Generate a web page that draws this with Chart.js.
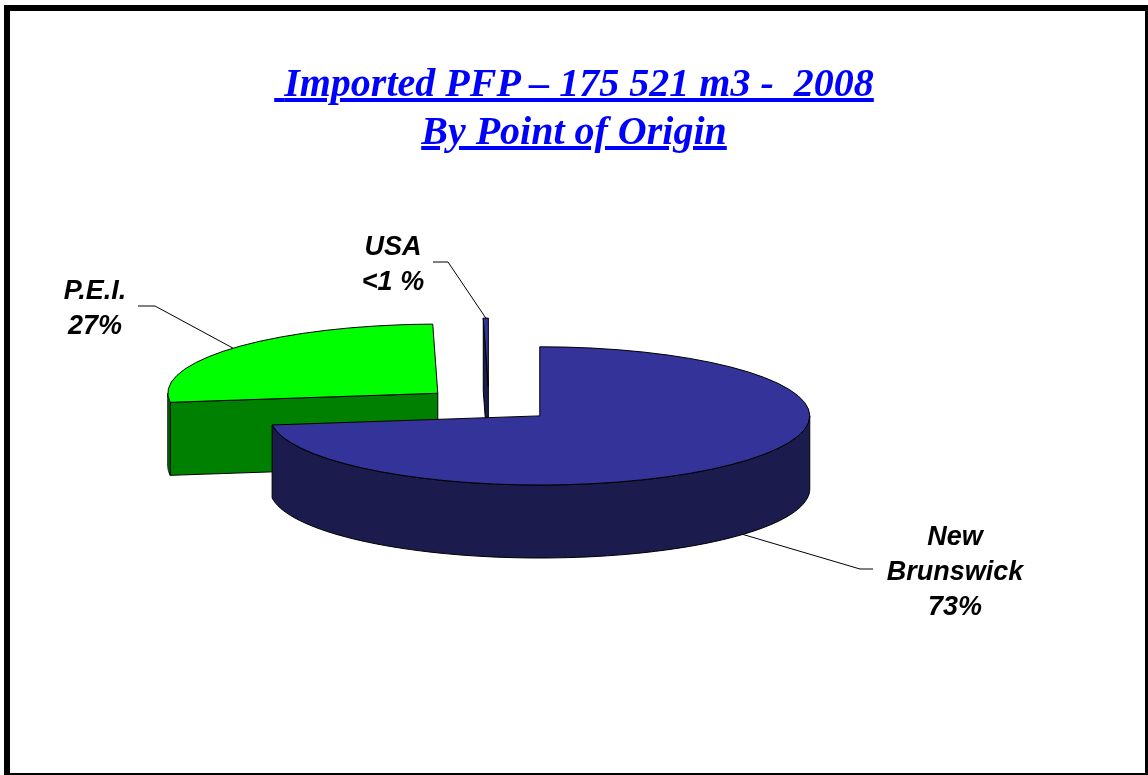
<!DOCTYPE html>
<html>
<head>
<meta charset="utf-8">
<title>Imported PFP 2008 by point of origin</title>
<script src="https://cdn.jsdelivr.net/npm/chart.js@4.4.1/dist/chart.umd.min.js"></script>
<style>
  html, body { margin: 0; padding: 0; background: #fff; }
  body { width: 1148px; height: 775px; position: relative; overflow: hidden; }
  #chart { position: absolute; left: 0; top: 0; }
  #frame {
    position: absolute; left: 4px; top: 5px;
    width: 1135px; height: 762px;
    border: 6px solid #000;
  }
  #title {
    position: absolute; left: 0; top: 59px; width: 1148px;
    text-align: center; white-space: pre;
    font: italic bold 40px "Liberation Serif", "Times New Roman", serif;
    line-height: 48px; color: #0000ff;
    text-decoration: underline;
  }
  #title .lead { color: #000; }
</style>
</head>
<body>
<canvas id="chart" width="1148" height="775"></canvas>
<div id="frame"></div>
<div id="title"><span class="lead"> </span>Imported PFP – 175 521 m3 -  2008
By Point of Origin</div>

<script>
// données
const categories = ['New Brunswick', 'P.E.I.', 'USA'];
const shares = [72.9, 26.8, 0.3];
const labelLines = [['New', 'Brunswick', '73%'], ['P.E.I.', '27%'], ['USA', '<1 %']];
const topColors = ['#333399', '#00ff00', '#333399'];
const sideColors = ['#1b1b4d', '#008000', '#1b1b4d'];

// Pie "3D" : faces latérales + dessus aplati
const pie3d = {
    id: 'pie3d',
    beforeDatasetsDraw(chart, args, opts) {
        const ctx = chart.ctx;
        const k = opts.tilt, D = opts.depth, e = opts.explode;
        const parts = chart.getDatasetMeta(0).data.map((el, i) => {
            const p = el.getProps(['x', 'y', 'startAngle', 'endAngle', 'outerRadius'], true);
            const h = (p.startAngle + p.endAngle) / 2;
            return {
                el, i, h, cy: p.y, R: p.outerRadius,
                a1: p.startAngle, a2: p.endAngle,
                ax: p.x + e * Math.cos(h),
                ay: p.y + k * e * Math.sin(h)
            };
        });
        chart.$pie3d = parts;

        const rim = (p, t, d) => [p.ax + p.R * Math.cos(t), p.ay + k * p.R * Math.sin(t) + d];
        const face = (pts, fill) => {
            ctx.beginPath();
            pts.forEach(([x, y], j) => j ? ctx.lineTo(x, y) : ctx.moveTo(x, y));
            ctx.closePath();
            ctx.fillStyle = fill;
            ctx.fill();
            ctx.stroke();
        };

        ctx.save();
        ctx.strokeStyle = '#000';
        ctx.lineWidth = 1;
        ctx.lineJoin = 'round';

        [...parts].sort((p, q) => p.ay - q.ay).forEach(p => {
            const side = sideColors[p.i];
            // faces radiales
            if (Math.cos(p.a1) < 0) {
                face([[p.ax, p.ay], rim(p, p.a1, 0), rim(p, p.a1, D), [p.ax, p.ay + D]], side);
            }
            if (Math.cos(p.a2) > 0) {
                face([[p.ax, p.ay], rim(p, p.a2, 0), rim(p, p.a2, D), [p.ax, p.ay + D]], side);
            }
            // face courbe (moitié avant)
            for (let n = -1; n <= 1; n++) {
                const s = Math.max(p.a1, 2 * Math.PI * n);
                const f = Math.min(p.a2, Math.PI + 2 * Math.PI * n);
                if (f <= s) continue;
                const steps = 80, top = [], bot = [];
                for (let j = 0; j <= steps; j++) {
                    const t = s + (f - s) * j / steps;
                    top.push(rim(p, t, 0));
                    bot.push(rim(p, t, D));
                }
                face(top.concat(bot.reverse()), side);
            }
            // dessus : l'arc de Chart.js, aplati
            ctx.save();
            ctx.translate(0, p.cy);
            ctx.scale(1, k);
            ctx.translate(0, -p.cy);
            ctx.translate(e * Math.cos(p.h), e * Math.sin(p.h));
            p.el.draw(ctx);
            ctx.restore();
            ctx.beginPath();
            ctx.moveTo(p.ax, p.ay);
            ctx.ellipse(p.ax, p.ay, p.R, k * p.R, 0, p.a1, p.a2);
            ctx.closePath();
            ctx.stroke();
        });
        ctx.restore();
        return false;
    },
    afterDraw(chart, args, opts) {
        const ctx = chart.ctx;
        const k = opts.tilt, D = opts.depth;
        const parts = chart.$pie3d || [];
        ctx.save();
        ctx.strokeStyle = '#000';
        ctx.lineWidth = 1;
        ctx.fillStyle = '#000';
        ctx.font = 'italic bold 27px "Liberation Sans", Arial, sans-serif';
        ctx.textAlign = 'center';
        parts.forEach(p => {
            const L = opts.labels[p.i];
            const d = Math.sin(p.h) > 0 ? D : 0;
            const tip = [p.ax + p.R * Math.cos(p.h), p.ay + k * p.R * Math.sin(p.h) + d];
            ctx.beginPath();
            ctx.moveTo(L.start[0], L.start[1]);
            ctx.lineTo(L.knee[0], L.knee[1]);
            ctx.lineTo(tip[0], tip[1]);
            ctx.stroke();
            labelLines[p.i].forEach((txt, j) => {
                ctx.fillText(txt, L.x, L.y + j * 35);
            });
        });
        ctx.restore();
    }
};

new Chart(document.getElementById('chart'), {
    type: 'pie',
    data: {
        labels: categories,
        datasets: [{
            data: shares,
            backgroundColor: topColors,
            borderWidth: 0,
            radius: 270,
            clip: false
        }]
    },
    options: {
        responsive: false,
        animation: false,
        events: [],
        layout: { padding: { left: 0, right: 170, top: 34, bottom: 0 } },
        plugins: {
            legend: { display: false },
            tooltip: { enabled: false },
            pie3d: {
                tilt: 0.256,
                depth: 73,
                explode: 67.5,
                labels: [
                    { x: 955, y: 545, start: [873, 569], knee: [860, 569] },
                    { x: 95, y: 299, start: [138, 306], knee: [155, 306] },
                    { x: 393, y: 255, start: [433, 262], knee: [448, 262] }
                ]
            }
        }
    },
    plugins: [pie3d]
});
</script>
</body>
</html>
